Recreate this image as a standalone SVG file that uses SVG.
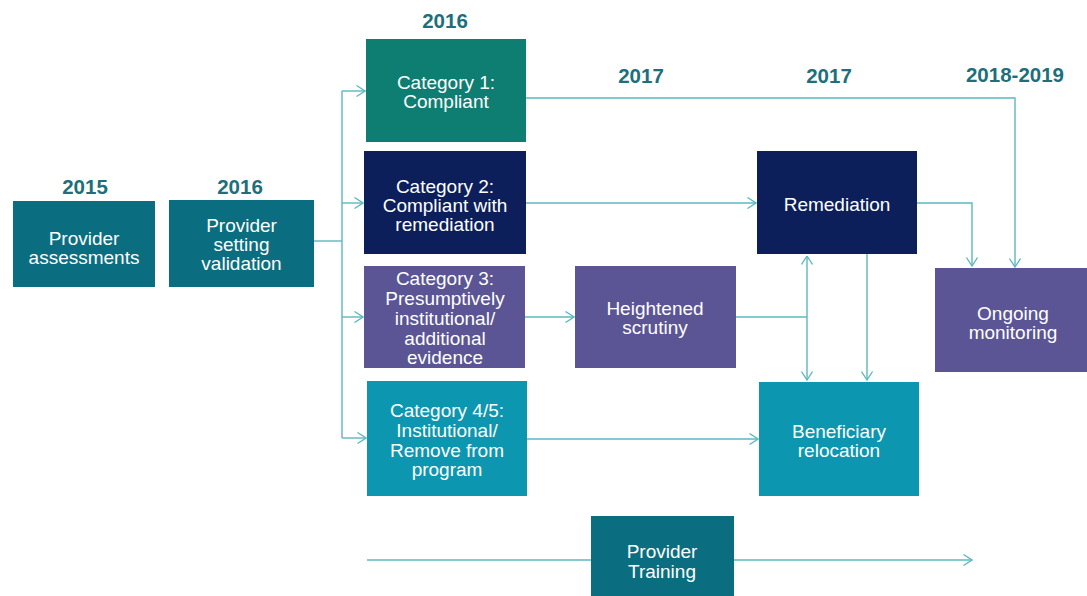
<svg xmlns="http://www.w3.org/2000/svg" width="1087" height="596" viewBox="0 0 1087 596">
<style>
.yr{font-family:"Liberation Sans",Arial,sans-serif;font-weight:bold;font-size:20.5px;fill:#1d6f7c;text-anchor:middle}
.t{font-family:"Liberation Sans",Arial,sans-serif;font-size:19px;fill:#ffffff;text-anchor:middle}
.c{fill:none;stroke:#5cb8be;stroke-width:1.4}
.teal{fill:#0b6e80}
.green{fill:#0f7e72}
.navy{fill:#0c1f5b}
.purple{fill:#5b5595}
.light{fill:#0c96af}
</style>
<defs>
<marker id="a" viewBox="0 0 10 12" refX="9.5" refY="6" markerWidth="10" markerHeight="12" markerUnits="userSpaceOnUse" orient="auto">
<path d="M1,0.5 L9.5,6 L1,11.5" fill="none" stroke="#5cb8be" stroke-width="1.3"/>
</marker>
</defs>
<rect width="1087" height="596" fill="#ffffff"/>
<g id="years">
<text class="yr" x="85" y="194">2015</text>
<text class="yr" x="240" y="194">2016</text>
<text class="yr" x="445" y="28">2016</text>
<text class="yr" x="641" y="83">2017</text>
<text class="yr" x="829" y="83">2017</text>
<text class="yr" x="1015" y="82">2018-2019</text>
</g>
<g id="connectors">
<path class="c" d="M314,241 H342"/>
<path class="c" d="M342,91 V438"/>
<path class="c" d="M342,91 H365" marker-end="url(#a)"/>
<path class="c" d="M342,203 H363" marker-end="url(#a)"/>
<path class="c" d="M342,317 H363" marker-end="url(#a)"/>
<path class="c" d="M342,438 H366" marker-end="url(#a)"/>
<path class="c" d="M526,98 H1015 V267" marker-end="url(#a)"/>
<path class="c" d="M526,203 H756" marker-end="url(#a)"/>
<path class="c" d="M525,317 H574" marker-end="url(#a)"/>
<path class="c" d="M736,317 H807"/>
<path class="c" d="M807,317 V256" marker-end="url(#a)"/>
<path class="c" d="M807,317 V380" marker-end="url(#a)"/>
<path class="c" d="M867,254 V380" marker-end="url(#a)"/>
<path class="c" d="M527,439 H758" marker-end="url(#a)"/>
<path class="c" d="M917,203 H972 V266" marker-end="url(#a)"/>
<path class="c" d="M367,560 H591"/>
<path class="c" d="M734,560 H972" marker-end="url(#a)"/>
</g>
<g id="provider-assessments">
<rect class="teal" x="13" y="201" width="142" height="86"/>
<text class="t" x="84" y="245">Provider</text>
<text class="t" x="84" y="264">assessments</text>
</g>
<g id="provider-setting-validation">
<rect class="teal" x="169" y="200" width="145" height="87"/>
<text class="t" x="241.5" y="232">Provider</text>
<text class="t" x="241.5" y="251">setting</text>
<text class="t" x="241.5" y="270">validation</text>
</g>
<g id="category-1">
<rect class="green" x="366" y="39" width="160" height="103"/>
<text class="t" x="446" y="89">Category 1:</text>
<text class="t" x="446" y="108">Compliant</text>
</g>
<g id="category-2">
<rect class="navy" x="364" y="151" width="162" height="103"/>
<text class="t" x="445" y="193">Category 2:</text>
<text class="t" x="445" y="212">Compliant  with</text>
<text class="t" x="445" y="231">remediation</text>
</g>
<g id="category-3">
<rect class="purple" x="364" y="266" width="161" height="102"/>
<text class="t" x="445" y="285">Category 3:</text>
<text class="t" x="445" y="305">Presumptively</text>
<text class="t" x="445" y="325">institutional/</text>
<text class="t" x="445" y="345">additional</text>
<text class="t" x="445" y="364">evidence</text>
</g>
<g id="category-4-5">
<rect class="light" x="367" y="381" width="160" height="115"/>
<text class="t" x="447" y="417">Category 4/5:</text>
<text class="t" x="447" y="437">Institutional/</text>
<text class="t" x="447" y="457">Remove from</text>
<text class="t" x="447" y="476">program</text>
</g>
<g id="heightened-scrutiny">
<rect class="purple" x="575" y="266" width="161" height="102"/>
<text class="t" x="655" y="315">Heightened</text>
<text class="t" x="655" y="334">scrutiny</text>
</g>
<g id="remediation">
<rect class="navy" x="757" y="151" width="160" height="103"/>
<text class="t" x="837" y="211">Remediation</text>
</g>
<g id="beneficiary-relocation">
<rect class="light" x="759" y="382" width="160" height="114"/>
<text class="t" x="839" y="438">Beneficiary</text>
<text class="t" x="839" y="457">relocation</text>
</g>
<g id="ongoing-monitoring">
<rect class="purple" x="935" y="268" width="155" height="104"/>
<text class="t" x="1013" y="320">Ongoing</text>
<text class="t" x="1013" y="339">monitoring</text>
</g>
<g id="provider-training">
<rect class="teal" x="591" y="516" width="143" height="82"/>
<text class="t" x="662" y="558">Provider</text>
<text class="t" x="662" y="578">Training</text>
</g>
</svg>
